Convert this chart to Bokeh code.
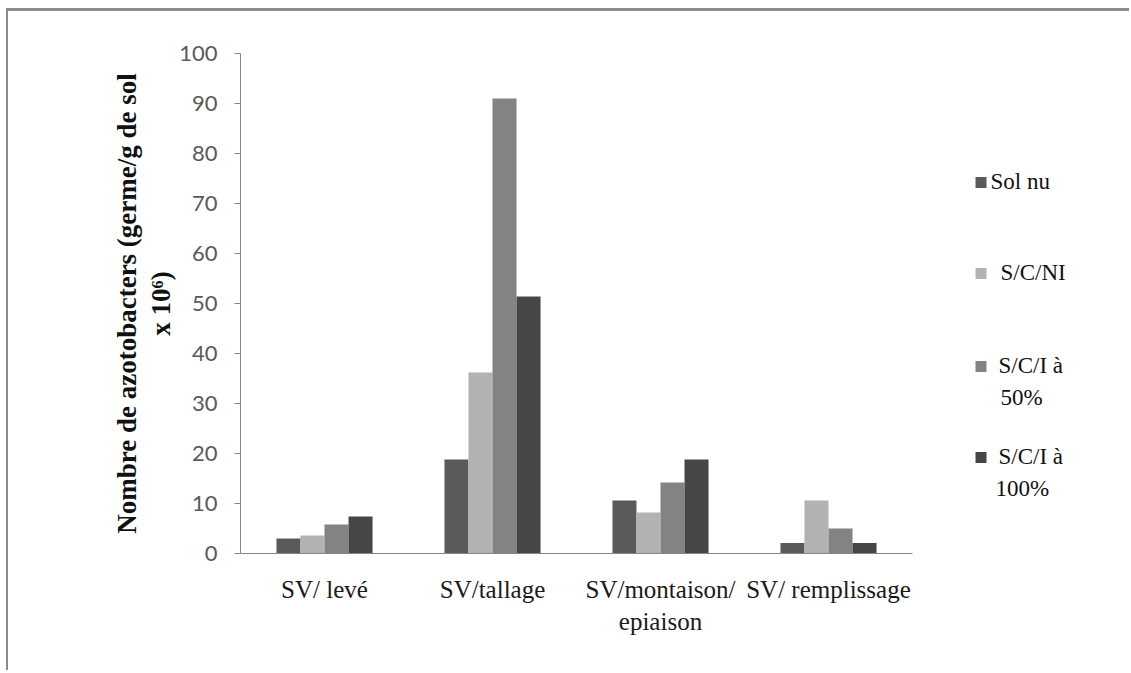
from bokeh.plotting import figure
from bokeh.models import Range1d, ColumnDataSource, FixedTicker, Title, Label, BoxAnnotation
from bokeh.embed import file_html
from bokeh.resources import INLINE

# ---- data ----
stages = ["SV/ levé", "SV/tallage", "SV/montaison/\nepiaison", "SV/ remplissage"]
series = ["Sol nu", "S/C/NI", "S/C/I  à\n50%", "S/C/I à\n100%"]
sol_nu = [3.0, 18.8, 10.6, 2.1]
sc_ni = [3.6, 36.2, 8.2, 10.6]
sci_50 = [5.8, 91.0, 14.2, 5.0]
sci_100 = [7.4, 51.4, 18.8, 2.1]
y_ticks = [0, 10, 20, 30, 40, 50, 60, 70, 80, 90, 100]
y_title_1 = "Nombre de azotobacters (germe/g de sol"
y_title_2 = "x 10\u2076)"

colors = ["#5a5a5a", "#b2b2b2", "#838383", "#464646"]
values = [sol_nu, sc_ni, sci_50, sci_100]
SERIF = "Liberation Serif"

# ---- layout ----
W, H = 1123, 662          # canvas; page frame adds 8px left / 11px top
LEFT, TOP, BOTTOM = 232, 42, 120
CAT_PX = 168              # pixel width of one category slot
n = len(stages)
centers = [i + 0.5 for i in range(n)]
x_end = (W - LEFT) / CAT_PX

p = figure(x_range=Range1d(0, x_end), y_range=Range1d(0, 100),
           width=W, height=H, output_backend="svg", toolbar_location=None,
           min_border_left=LEFT, min_border_right=0, min_border_top=TOP, min_border_bottom=BOTTOM)
p.styles = {"margin-left": "6px", "margin-top": "8px",
            "border-left": "2px solid #8c8c8c", "border-top": "3px solid #8c8c8c"}
p.xgrid.visible = False
p.ygrid.visible = False
p.outline_line_color = None

bw = 0.143
offsets = [-1.5 * bw, -0.5 * bw, 0.5 * bw, 1.5 * bw]
for vals, off, c in zip(values, offsets, colors):
    src = ColumnDataSource(dict(x=[cx + off for cx in centers], top=vals))
    p.vbar(x="x", top="top", width=bw, source=src, fill_color=c, line_color=None)

# y axis
ya = p.yaxis[0]
ya.ticker = FixedTicker(ticks=y_ticks)
ya.minor_tick_line_color = None
ya.major_tick_in = 0
ya.major_tick_out = 6
ya.axis_line_color = "#868686"
ya.major_tick_line_color = "#868686"
ya.major_label_text_font = "Lato"
ya.major_label_text_font_size = "22px"
ya.major_label_text_color = "#595959"
ya.major_label_standoff = 17

# x axis (numeric slots labelled with the stages)
xa = p.xaxis[0]
xa.ticker = FixedTicker(ticks=centers)
xa.major_label_overrides = {c: s for c, s in zip(centers, stages)}
xa.bounds = (0, n)
xa.major_tick_in = 0
xa.major_tick_out = 0
xa.minor_tick_line_color = None
xa.axis_line_color = "#868686"
xa.major_label_text_font = SERIF
xa.major_label_text_font_size = "25px"
xa.major_label_text_color = "#1a1a1a"
xa.major_label_standoff = 22

# y title (two lines, nearest line added first)
for txt in (y_title_2, y_title_1):
    t = Title(text=txt, align="center", text_font=SERIF, text_font_style="bold",
              text_font_size="27px", text_color="#111111", standoff=2)
    p.add_layout(t, "left")

# legend drawn inside the (extended) frame; screen units relative to frame
FB = H - BOTTOM - TOP     # frame height in px
leg_marker_x = 735
leg_rows_y = [181, 272, 365, 456]   # page y of first text line
leg_text_x = [[750], [760], [758, 760], [758, 755]]
for name, c, py, txs in zip(series, colors, leg_rows_y, leg_text_x):
    yc = py - 11 - TOP
    sy = FB - yc
    p.add_layout(BoxAnnotation(left=leg_marker_x, right=leg_marker_x + 11, top=sy + 4.5, bottom=sy - 6.5,
                               left_units="screen", right_units="screen", top_units="screen",
                               bottom_units="screen", fill_color=c, fill_alpha=1, line_color=None))
    for i, (ln, tx) in enumerate(zip(name.split("\n"), txs)):
        p.add_layout(Label(x=tx, y=sy - 32 * i, x_units="screen", y_units="screen", text=ln,
                           text_align="left", text_baseline="middle", text_font=SERIF,
                           text_font_size="23px", text_color="#111111"))

open("out.html", "w").write(file_html(p, INLINE))
